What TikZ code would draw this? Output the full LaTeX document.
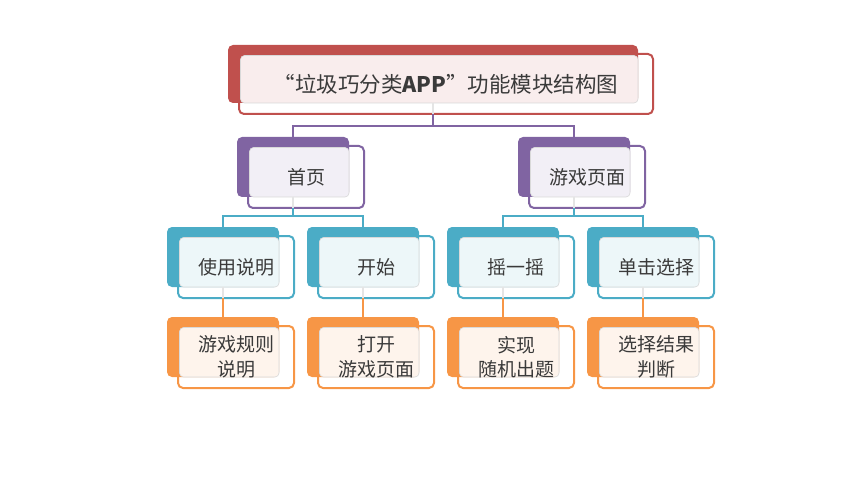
\documentclass[tikz,border=0pt]{standalone}
\usepackage{fontspec}
\setmainfont{Noto Sans CJK SC}
\usetikzlibrary{calc}
\definecolor{vmired}{HTML}{C0504D}
\definecolor{vmipurple}{HTML}{8064A2}
\definecolor{vmiblue}{HTML}{4BACC6}
\definecolor{vmiorange}{HTML}{F79646}
\definecolor{vmitext}{HTML}{3A3A3A}

\newcommand{\vmimodule}[6]
{	\node [modout=#2,minimum width=#4+4,minimum height=#5+2] (#1o) at ($#3+(11,9)$) {};
	\node [modback=#2,minimum width=#4,minimum height=#5] (#1) at #3 {};
	\draw [modface=#2] ($(#1o.north west)+(1.5,1.5)$) rectangle (#1.south east);
	\node [modtext] (#1t) at (#1o.center) {#6};
}

\begin{document}
\begin{tikzpicture}[x=1pt,y=-1pt,
	modout/.style={draw=#1,fill=white,line width=2pt,rounded corners=5pt,anchor=north west,inner sep=0pt,outer sep=0pt},
	modback/.style={fill=#1,rounded corners=5pt,anchor=north west,inner sep=0pt,outer sep=0pt},
	modface/.style={fill=#1!10,draw=black!15,line width=.6pt,rounded corners=4pt},
	modtext/.style={text=vmitext,font=\fontsize{19}{24.5}\selectfont,align=center,inner sep=0pt},
	link/.style={draw=#1,line width=2.8pt},
	stub/.style={draw=black!10,line width=2pt}]

\useasboundingbox (0,0) rectangle (860,484);

\begin{scope}
	\vmimodule{title}{vmired}{(228,45)}{410}{58}{\fontsize{21.5}{24}\selectfont “垃圾巧分类\textbf{APP}”功能模块结构图}
	\vmimodule{home}{vmipurple}{(237,137)}{112}{60}{首页}
	\vmimodule{game}{vmipurple}{(518,137)}{112}{60}{游戏页面}
\end{scope}

\begin{scope}
	\vmimodule{use}{vmiblue}{(167,227)}{112}{60}{使用说明}
	\vmimodule{start}{vmiblue}{(307,227)}{112}{60}{开始}
	\vmimodule{shake}{vmiblue}{(447,227)}{112}{60}{摇一摇}
	\vmimodule{click}{vmiblue}{(587,227)}{112}{60}{单击选择}
\end{scope}

\begin{scope}
	\vmimodule{rule}{vmiorange}{(167,317)}{112}{60}{游戏规则\\说明}
	\vmimodule{open}{vmiorange}{(307,317)}{112}{60}{打开\\游戏页面}
	\vmimodule{rand}{vmiorange}{(447,317)}{112}{60}{实现\\随机出题}
	\vmimodule{judge}{vmiorange}{(587,317)}{112}{60}{选择结果\\判断}
\end{scope}

\foreach \p in {title,home,game,use,start,shake,click}
	\draw [stub] (\p.south) -- (\p.south |- \p o.south);

\draw [link=vmipurple] (title.south |- titleo.south) -- ++(0,12) -| (home.north);
\draw [link=vmipurple] (title.south |- titleo.south) -- ++(0,12) -| (game.north);
\draw [link=vmiblue] (home.south |- homeo.south) -- ++(0,8) -| (use.north);
\draw [link=vmiblue] (home.south |- homeo.south) -- ++(0,8) -| (start.north);
\draw [link=vmiblue] (game.south |- gameo.south) -- ++(0,8) -| (shake.north);
\draw [link=vmiblue] (game.south |- gameo.south) -- ++(0,8) -| (click.north);
\draw [link=vmiorange] (use.south |- useo.south) -- (rule.north);
\draw [link=vmiorange] (start.south |- starto.south) -- (open.north);
\draw [link=vmiorange] (shake.south |- shakeo.south) -- (rand.north);
\draw [link=vmiorange] (click.south |- clicko.south) -- (judge.north);

\end{tikzpicture}
\end{document}
